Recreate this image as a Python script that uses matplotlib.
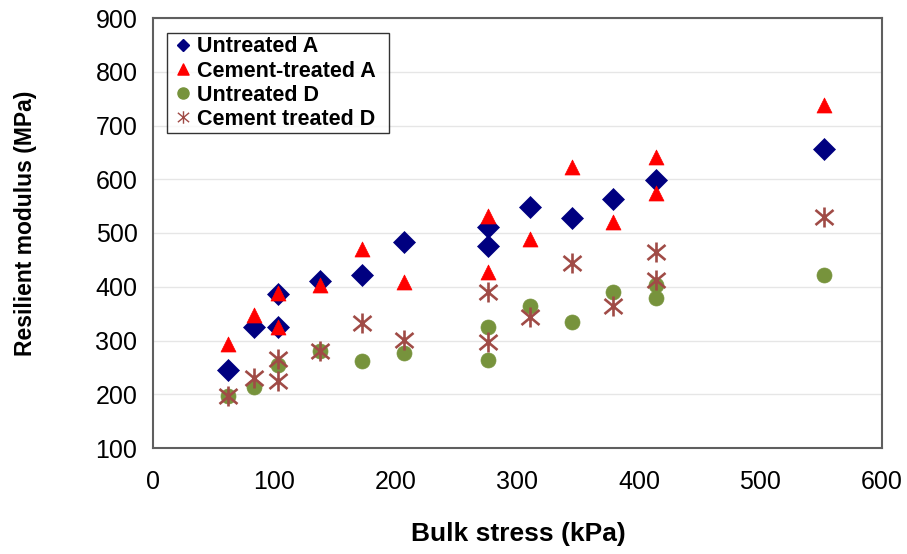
import matplotlib
matplotlib.use("Agg")
import matplotlib.pyplot as plt
from matplotlib.path import Path
from matplotlib.lines import Line2D

plt.rcParams['font.family'] = ['Liberation Sans', 'DejaVu Sans']

# Bulk stress (kPa) and resilient modulus (MPa) for each material
untreated_a_x = [62, 83, 103, 103, 138, 172, 207, 276, 276, 310, 345, 379, 414, 552]
untreated_a_y = [246, 325, 387, 325, 411, 421, 483, 512, 475, 549, 527, 563, 599, 657]

cement_a_x = [62, 83, 103, 103, 138, 172, 207, 276, 276, 310, 345, 379, 414, 414, 552]
cement_a_y = [294, 348, 388, 325, 403, 470, 408, 531, 427, 489, 622, 520, 642, 575, 738]

untreated_d_x = [62, 83, 103, 138, 172, 207, 276, 276, 310, 345, 379, 414, 414, 552]
untreated_d_y = [196, 214, 255, 281, 261, 276, 325, 264, 365, 334, 391, 403, 380, 422]

cement_d_x = [62, 83, 103, 103, 138, 172, 207, 276, 276, 310, 345, 379, 414, 414, 552]
cement_d_y = [196, 230, 265, 225, 281, 333, 301, 391, 298, 344, 444, 365, 465, 413, 529]

series_labels = ["Untreated A", "Cement-treated A", "Untreated D", "Cement treated D"]

x_ticks = [0, 100, 200, 300, 400, 500, 600]
y_ticks = [100, 200, 300, 400, 500, 600, 700, 800, 900]

# marker shapes
star_path = Path(
    [(0, -1), (0, 1), (-0.9, -0.75), (0.9, 0.75), (-0.9, 0.75), (0.9, -0.75)],
    [Path.MOVETO, Path.LINETO, Path.MOVETO, Path.LINETO, Path.MOVETO, Path.LINETO],
)
tri_path = Path([(0, 1), (-1, -1), (1, -1), (0, 1)],
                [Path.MOVETO, Path.LINETO, Path.LINETO, Path.CLOSEPOLY])

blue = "#000080"
red = "#FF0000"
green = "#77933C"
brown = "#A04B46"

fig = plt.figure(figsize=(9.07, 5.54), dpi=100)
ax = fig.add_axes([152.7 / 907, 106 / 554, 729.3 / 907, 430 / 554])

ax.plot(untreated_a_x, untreated_a_y, linestyle="none", marker="D", ms=11.7,
        mfc=blue, mec=blue, mew=0.5, zorder=3)
ax.plot(cement_a_x, cement_a_y, linestyle="none", marker=tri_path, ms=10.8,
        mfc=red, mec=red, mew=0.5, zorder=4)
ax.plot(untreated_d_x, untreated_d_y, linestyle="none", marker="o", ms=10.8,
        mfc=green, mec=green, mew=0.5, zorder=3)
ax.plot(cement_d_x, cement_d_y, linestyle="none", marker=star_path, ms=14.4,
        mfc="none", mec=brown, mew=1.9, zorder=4)

ax.set_xlim(0, 600)
ax.set_ylim(100, 900)
ax.set_xticks(x_ticks)
ax.set_yticks(y_ticks)
ax.tick_params(axis="both", length=0, labelsize=18, colors="black")
ax.tick_params(axis="x", pad=16)
ax.tick_params(axis="y", pad=11)
ax.yaxis.grid(True, color="#E6E6E6", linewidth=1.0)
ax.set_axisbelow(True)
for side in ax.spines.values():
    side.set_color("#5f5f5f")
    side.set_linewidth(1.5)

ax.set_xlabel("Bulk stress (kPa)", fontsize=19, fontweight="bold")
ax.xaxis.set_label_coords(0.502, -0.172)
ax.set_ylabel("Resilient modulus (MPa)", fontsize=16.5, fontweight="bold")
ax.yaxis.set_label_coords(-0.159, 0.522)

handles = [
    Line2D([], [], linestyle="none", marker="D", ms=6, mfc=blue, mec=blue),
    Line2D([], [], linestyle="none", marker=tri_path, ms=8, mfc=red, mec=red),
    Line2D([], [], linestyle="none", marker="o", ms=8, mfc=green, mec=green),
    Line2D([], [], linestyle="none", marker=star_path, ms=9, mfc="none", mec=brown, mew=1.0),
]
leg = ax.legend(handles, series_labels, loc="upper left",
                bbox_to_anchor=(0.0192, 0.966, (389 - 167) / 729.3, 0.0),
                mode="expand", borderaxespad=0,
                prop={"size": 15.5, "weight": "bold"}, frameon=True, fancybox=False,
                handlelength=1.2, handletextpad=0.05, labelspacing=0.14,
                borderpad=0.18)
leg.get_frame().set_edgecolor("black")
leg.get_frame().set_linewidth(1.0)

fig.savefig("out.png", dpi=100)
